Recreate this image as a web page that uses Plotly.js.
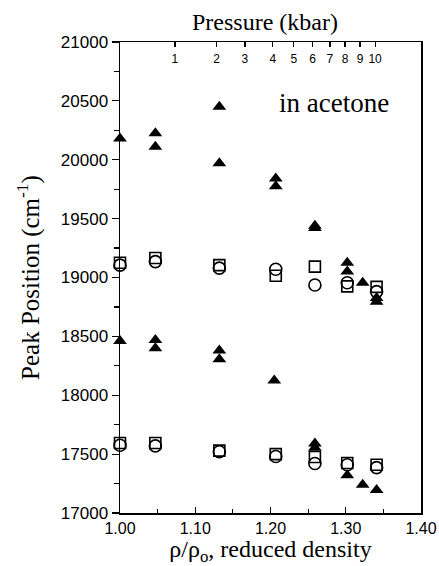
<!DOCTYPE html>
<html>
<head>
<meta charset="utf-8">
<script src="https://cdn.plot.ly/plotly-3.0.1.min.js"></script>
<style>html,body{margin:0;padding:0;background:#fff;}#chart{width:439px;height:566px;}</style>
</head>
<body>
<div id="chart"></div>
<script>
// Filled triangles
const triX = [1.00, 1.00, 1.047, 1.047, 1.047, 1.047, 1.132, 1.132, 1.132, 1.132, 1.207, 1.207, 1.205, 1.259, 1.259, 1.259, 1.259, 1.302, 1.302, 1.302, 1.3225, 1.3225, 1.341, 1.341, 1.341];
const triY = [20180, 18460, 20225, 20110, 18470, 18400, 20450, 19970, 18380, 18305, 19840, 19775, 18125, 19440, 19420, 17590, 17555, 19125, 19050, 17320, 18955, 17240, 18825, 18795, 17195];
// Open squares
const sqX = [1.00, 1.047, 1.132, 1.207, 1.259, 1.302, 1.341, 1.00, 1.047, 1.132, 1.207, 1.259, 1.302, 1.341];
const sqY = [19125, 19165, 19105, 19015, 19092, 18925, 18920, 17595, 17595, 17530, 17500, 17475, 17425, 17410];
// Open circles
const ciX = [1.00, 1.047, 1.132, 1.207, 1.259, 1.302, 1.341, 1.00, 1.047, 1.132, 1.207, 1.259, 1.302, 1.341];
const ciY = [19105, 19135, 19080, 19070, 18936, 18955, 18880, 17575, 17570, 17520, 17480, 17420, 17410, 17385];
// Top pressure axis (kbar) located at reduced density values
const pressX = [1.073, 1.1285, 1.166, 1.203, 1.231, 1.256, 1.279, 1.299, 1.319, 1.339];
const pressLabels = ["1", "2", "3", "4", "5", "6", "7", "8", "9", "10"];

const serif = "Liberation Serif, Times New Roman, serif";
const sans = "Liberation Sans, Arial, sans-serif";

const traces = [
  {x: sqX, y: sqY, mode: 'markers', type: 'scatter', cliponaxis: false,
   marker: {symbol: 'square-open', size: 11, color: '#000', line: {width: 1.6, color: '#000'}}},
  {x: ciX, y: ciY, mode: 'markers', type: 'scatter', cliponaxis: false,
   marker: {symbol: 'circle-open', size: 12, color: '#000', line: {width: 1.6, color: '#000'}}},
  {x: triX, y: triY, mode: 'markers', type: 'scatter', cliponaxis: false,
   marker: {symbol: 'triangle-up', size: 12, color: '#000', line: {width: 0}}},
  // carrier for the top pressure axis (no visible marks)
  {x: [], y: [], xaxis: 'x2', yaxis: 'y', mode: 'markers', type: 'scatter', hoverinfo: 'skip',
   marker: {color: '#000'}}
];

const layout = {
  width: 439, height: 566,
  margin: {l: 120, r: 18, t: 42, b: 53},
  paper_bgcolor: '#fff', plot_bgcolor: '#fff',
  showlegend: false,
  font: {family: sans, color: '#000', size: 16},
  xaxis: {
    range: [1.0, 1.4], dtick: 0.1, tick0: 1.0, tickformat: '.2f',
    ticks: 'inside', ticklen: 6, tickwidth: 1.2, tickcolor: '#000',
    minor: {dtick: 0.05, ticks: 'inside', ticklen: 4, tickcolor: '#000'},
    showline: true, linecolor: '#000', linewidth: 1.5,
    showgrid: false, zeroline: false,
    tickfont: {family: sans, size: 16, color: '#000'},
    title: {text: 'ρ/ρ<sub>o</sub>, reduced density', font: {family: serif, size: 24, color: '#000'}, standoff: 8}
  },
  xaxis2: {
    overlaying: 'x', side: 'top', range: [1.0, 1.4], anchor: 'y',
    tickmode: 'array', tickvals: pressX, ticktext: pressLabels,
    ticks: 'inside', ticklen: 5, tickcolor: '#000', tickwidth: 1.2,
    ticklabelposition: 'outside', ticklabelstandoff: -27,
    showline: true, linecolor: '#000', linewidth: 1.5,
    showgrid: false, zeroline: false,
    tickfont: {family: sans, size: 12, color: '#000'}
  },
  yaxis: {
    range: [17000, 21000], dtick: 500, tick0: 17000, tickformat: 'd',
    ticks: 'outside', ticklen: 7, tickwidth: 1.2, tickcolor: '#000',
    minor: {dtick: 250, ticks: 'outside', ticklen: 5, tickcolor: '#000'},
    showline: true, mirror: true, linecolor: '#000', linewidth: 1.5,
    showgrid: false, zeroline: false,
    tickfont: {family: sans, size: 17, color: '#000'},
    title: {text: 'Peak Position (cm<sup>-1</sup>)', font: {family: serif, size: 25, color: '#000'}, standoff: 14}
  },
  annotations: [
    {text: 'in acetone', x: 1.284, y: 20482, xref: 'x', yref: 'y', showarrow: false,
     font: {family: serif, size: 27, color: '#000'}, xanchor: 'center', yanchor: 'middle'},
    {text: 'Pressure (kbar)', x: 0.483, y: 1.0425, xref: 'paper', yref: 'paper', showarrow: false,
     font: {family: serif, size: 24, color: '#000'}, xanchor: 'center', yanchor: 'middle'}
  ]
};

Plotly.newPlot('chart', traces, layout, {staticPlot: true, displayModeBar: false});
</script>
</body>
</html>
